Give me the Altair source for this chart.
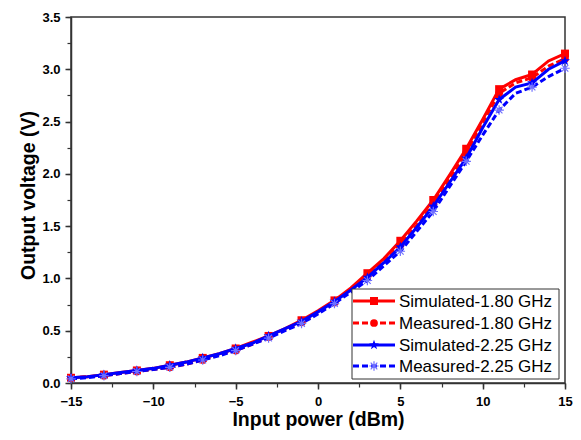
import altair as alt
import pandas as pd
import numpy as np

# ---------------- data ----------------
x_dbm = list(range(-15, 16))
sim_180 = [0.05, 0.06, 0.08, 0.10, 0.12, 0.14, 0.17, 0.20, 0.24, 0.28, 0.33, 0.39, 0.45, 0.52, 0.60, 0.69,
           0.79, 0.91, 1.05, 1.19, 1.36, 1.55, 1.75, 1.99, 2.24, 2.52, 2.81, 2.90, 2.95, 3.08, 3.15]
meas_180 = [0.05, 0.06, 0.07, 0.09, 0.11, 0.13, 0.15, 0.18, 0.22, 0.27, 0.31, 0.37, 0.44, 0.51, 0.58, 0.67,
            0.77, 0.89, 1.02, 1.16, 1.32, 1.51, 1.71, 1.95, 2.20, 2.49, 2.77, 2.87, 2.92, 3.03, 3.10]
sim_225 = [0.05, 0.06, 0.08, 0.10, 0.12, 0.14, 0.17, 0.20, 0.24, 0.28, 0.33, 0.38, 0.45, 0.52, 0.59, 0.68,
           0.78, 0.89, 1.01, 1.15, 1.30, 1.49, 1.69, 1.92, 2.15, 2.44, 2.71, 2.83, 2.87, 3.00, 3.08]
meas_225 = [0.04, 0.05, 0.07, 0.09, 0.11, 0.13, 0.15, 0.18, 0.22, 0.26, 0.31, 0.37, 0.43, 0.50, 0.57, 0.66,
            0.76, 0.87, 0.98, 1.12, 1.26, 1.45, 1.64, 1.88, 2.12, 2.37, 2.61, 2.77, 2.83, 2.93, 3.01]
series_names = ["Simulated-1.80 GHz", "Measured-1.80 GHz", "Simulated-2.25 GHz", "Measured-2.25 GHz"]
series_values = [sim_180, meas_180, sim_225, meas_225]

x_major = [-15, -10, -5, 0, 5, 10, 15]
x_minor = [-15, -12.5, -10, -7.5, -5, -2.5, 0, 2.5, 5, 7.5, 10, 12.5, 15]
y_major = [0, 0.5, 1.0, 1.5, 2.0, 2.5, 3.0, 3.5]
y_minor = [0, 0.25, 0.5, 0.75, 1.0, 1.25, 1.5, 1.75, 2.0, 2.25, 2.5, 2.75, 3.0, 3.25, 3.5]

# ---------------- styles ----------------
ang = np.arange(10) * np.pi / 5 - np.pi / 2
rad = np.where(np.arange(10) % 2 == 0, 1.0, 0.4)
STAR = "M" + "L".join(f"{a:.3f},{b:.3f}" for a, b in zip(rad * np.cos(ang), rad * np.sin(ang))) + "Z"
ASTER = "M-1,0L1,0M0,-1L0,1M-0.7,-0.7L0.7,0.7M-0.7,0.7L0.7,-0.7"

styles = [
    dict(color="#ff0000", dash=None, shape="square", filled=True, size=64, mcolor="#ff0000", sw=0),
    dict(color="#ff0000", dash=[6, 3], shape="circle", filled=True, size=60, mcolor="#ff0000", sw=0),
    dict(color="#0000ff", dash=None, shape=STAR, filled=True, size=110, mcolor="#0000ff", sw=0),
    dict(color="#0000ff", dash=[6, 3], shape=ASTER, filled=False, size=90, mcolor="#6f6fff", sw=1.2),
]

FONT = "Liberation Sans"
W, H = 494, 366

xscale = alt.Scale(domain=[-15, 15], nice=False)
yscale = alt.Scale(domain=[0, 3.5], nice=False)

x_axis = alt.Axis(values=x_major, title="Input power (dBm)", grid=False, tickSize=6, tickWidth=1.5,
                  tickColor="#333333", domainColor="#333333", domainWidth=1.5, labelFont=FONT,
                  labelFontWeight="bold", labelFontSize=13, labelColor="black", labelPadding=6,
                  titleFont=FONT, titleFontWeight="bold", titleFontSize=19.5, titleColor="black",
                  titlePadding=2, labelFlush=False)
y_axis = alt.Axis(values=y_major, format=".1f", title="Output voltage (V)", grid=False, tickSize=6,
                  tickWidth=1.5, tickColor="#333333", domainColor="#333333", domainWidth=1.5,
                  labelFont=FONT, labelFontWeight="bold", labelFontSize=13, labelColor="black",
                  labelPadding=5, titleFont=FONT, titleFontWeight="bold", titleFontSize=19.5,
                  titleColor="black", titlePadding=3, titleY=178, labelFlush=False)

rows = []
for name, vals in zip(series_names, series_values):
    for xv, yv in zip(x_dbm, vals):
        rows.append({"x": xv, "v": yv, "series": name})
df = pd.DataFrame(rows)

layers = []
for name, st in zip(series_names, styles):
    sub = df[df.series == name]
    line_kw = dict(color=st["color"], strokeWidth=3, clip=True)
    if st["dash"]:
        line_kw["strokeDash"] = st["dash"]
    line = alt.Chart(sub).mark_line(**line_kw).encode(
        x=alt.X("x:Q", scale=xscale, axis=x_axis),
        y=alt.Y("v:Q", scale=yscale, axis=y_axis),
    )
    pt_kw = dict(shape=st["shape"], filled=st["filled"], size=st["size"], color=st["mcolor"], opacity=1)
    if st["sw"]:
        pt_kw["strokeWidth"] = st["sw"]
    pts = alt.Chart(sub).mark_point(**pt_kw).transform_filter("datum.x % 2 != 0").encode(
        x=alt.X("x:Q", scale=xscale, axis=x_axis),
        y=alt.Y("v:Q", scale=yscale, axis=y_axis),
    )
    layers += [line, pts]

# legend (manual)
leg_rows_y = [284, 306, 328, 349]
leg_box = alt.Chart(pd.DataFrame({"a": [0]})).mark_rect(fill="white", stroke="#333333", strokeWidth=1).encode(
    x=alt.value(281), x2=alt.value(488), y=alt.value(272), y2=alt.value(362))
layers.append(leg_box)
for name, st, yy in zip(series_names, styles, leg_rows_y):
    ldf = pd.DataFrame({"label": [name]})
    rk = dict(color=st["color"], strokeWidth=3)
    if st["dash"]:
        rk["strokeDash"] = st["dash"]
    layers.append(alt.Chart(ldf).mark_rule(**rk).encode(x=alt.value(282), x2=alt.value(324), y=alt.value(yy)))
    pk = dict(shape=st["shape"], filled=st["filled"], size=st["size"], color=st["mcolor"], opacity=1)
    if st["sw"]:
        pk["strokeWidth"] = st["sw"]
    layers.append(alt.Chart(ldf).mark_point(**pk).encode(x=alt.value(303), y=alt.value(yy)))
    layers.append(alt.Chart(ldf).mark_text(align="left", baseline="middle", font=FONT, fontSize=17,
                                           color="black").encode(x=alt.value(328), y=alt.value(yy + 1),
                                                                 text="label:N"))

main = alt.layer(*layers)

minor_df = pd.DataFrame({"x": [0], "v": [1]})
minor = alt.Chart(minor_df).mark_point(opacity=0).encode(
    x=alt.X("x:Q", scale=xscale, axis=alt.Axis(orient="bottom", values=x_minor, labels=False, domain=False,
                                              title=None, grid=False, tickSize=4, tickWidth=1.2,
                                              tickColor="#333333")),
    y=alt.Y("v:Q", scale=yscale, axis=alt.Axis(orient="left", values=y_minor, labels=False, domain=False,
                                              title=None, grid=False, tickSize=4, tickWidth=1.2,
                                              tickColor="#333333")),
)

chart = alt.layer(main, minor).resolve_axis(x="independent", y="independent").properties(
    width=W, height=H,
    autosize=alt.AutoSizeParams(type="none"),
    padding={"left": 63, "top": 9, "right": 8, "bottom": 49},
).configure_view(stroke="#333333", strokeWidth=1.5)

chart.save("out.html", embed_options={"renderer": "svg", "actions": False})
